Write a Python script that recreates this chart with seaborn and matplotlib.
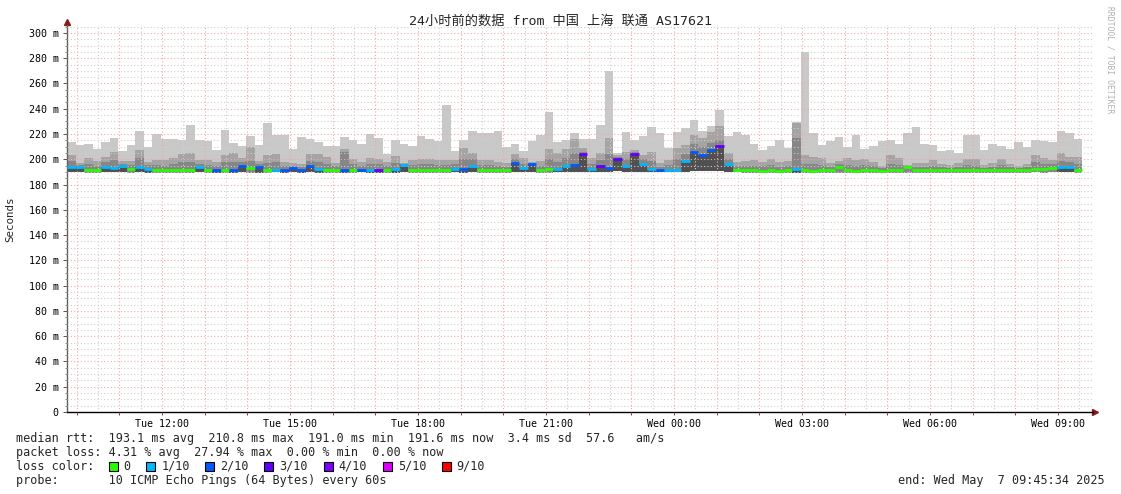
"""
SmokePing style latency chart (24h, 12 minute steps)
"""

import matplotlib
matplotlib.use("Agg")
import matplotlib.pyplot as plt
from matplotlib.patches import Rectangle
from matplotlib.ticker import MultipleLocator, FuncFormatter
import numpy as np
import seaborn as sns

W, H = 1121, 494

# time axis in hours since Tue 00:00
START_HOUR = 9.774
STEP_HOURS = 0.2
SPAN_HOURS = 24.05

# per step values, ms
rtt_max = [
    214.0, 211.4, 212.2, 208.2, 214.0, 217.2, 206.9, 211.4, 222.7, 210.1,
    220.1, 215.9, 215.9, 215.3, 227.2, 215.3, 214.8, 207.4, 223.2, 212.7,
    210.6, 218.5, 211.4, 229.0, 219.3, 219.3, 208.2, 218.0, 215.9, 214.0,
    210.6, 210.6, 218.0, 215.3, 212.2, 220.1, 217.2, 204.2, 215.3, 212.2,
    210.6, 218.5, 216.1, 214.8, 243.0, 206.6, 215.3, 222.4, 220.6, 220.6,
    222.4, 210.1, 212.2, 206.6, 214.8, 219.3, 237.7, 214.0, 215.3, 220.6,
    216.0, 215.9, 227.2, 270.2, 204.7, 221.4, 215.4, 218.7, 225.6, 220.6,
    208.7, 221.4, 224.6, 231.1, 222.4, 226.4, 239.1, 218.7, 221.4, 219.3,
    212.1, 207.4, 210.8, 215.4, 209.2, 229.8, 284.7, 220.9, 211.3, 214.6,
    217.8, 210.0, 219.3, 208.2, 210.5, 214.1, 215.4, 212.1, 220.6, 225.9,
    212.2, 211.4, 206.6, 207.4, 204.7, 219.3, 219.3, 207.4, 212.2, 210.6,
    207.9, 214.0, 209.5, 215.3, 214.5, 214.0, 222.4, 221.1, 216.1,
]
rtt_p80 = [
    203.4, 197.3, 200.8, 198.9, 202.1, 206.1, 198.7, 198.9, 207.4, 198.1,
    199.5, 199.5, 200.8, 204.2, 205.3, 199.5, 199.5, 198.1, 203.4, 205.3,
    200.8, 210.0, 198.9, 203.4, 204.2, 198.1, 196.8, 196.3, 204.0, 204.0,
    202.0, 197.3, 208.2, 200.0, 198.1, 200.8, 200.0, 198.1, 202.6, 197.3,
    199.5, 200.3, 200.3, 199.5, 199.5, 199.5, 209.2, 205.3, 199.5, 199.5,
    198.1, 196.8, 204.2, 200.8, 198.1, 198.9, 207.9, 204.7, 207.9, 216.1,
    208.7, 200.8, 204.7, 217.2, 203.4, 206.1, 207.4, 203.4, 206.1, 196.8,
    199.5, 208.7, 211.3, 219.3, 216.6, 221.4, 226.4, 204.7, 198.2, 198.7,
    199.5, 198.2, 200.2, 197.6, 198.7, 228.5, 203.4, 202.1, 201.3, 196.8,
    198.7, 200.8, 199.5, 200.2, 198.2, 195.0, 203.4, 200.8, 195.5, 196.8,
    197.3, 199.5, 196.3, 195.5, 196.8, 200.0, 200.0, 195.5, 197.3, 200.0,
    196.3, 194.7, 196.3, 203.4, 200.8, 199.5, 205.3, 202.1, 201.6,
]
rtt_p60 = [
    198.5, 195.5, 196.0, 195.0, 198.0, 199.5, 196.5, 195.5, 201.0, 195.5,
    195.5, 195.0, 196.0, 197.5, 198.0, 196.5, 195.5, 195.0, 197.5, 198.0,
    198.0, 199.0, 196.5, 197.0, 197.5, 195.0, 195.0, 194.0, 199.0, 198.0,
    196.5, 194.5, 206.0, 196.0, 195.0, 196.0, 196.0, 195.0, 197.0, 196.5,
    195.5, 196.0, 196.0, 195.5, 195.5, 196.0, 200.5, 200.0, 195.5, 195.5,
    195.0, 194.0, 200.5, 196.5, 197.0, 195.0, 200.0, 198.0, 201.0, 205.0,
    206.0, 196.5, 199.5, 204.0, 201.5, 200.0, 205.5, 200.0, 199.0, 194.0,
    195.5, 200.0, 204.0, 212.0, 210.0, 213.0, 215.0, 200.0, 194.5, 195.0,
    195.0, 194.5, 195.5, 194.0, 194.5, 217.2, 196.5, 196.0, 195.5, 194.0,
    196.0, 195.5, 195.0, 195.5, 194.5, 193.0, 196.5, 195.5, 194.5, 194.0,
    194.0, 195.0, 194.0, 193.5, 194.0, 195.5, 195.0, 193.5, 194.0, 195.5,
    194.0, 193.0, 194.0, 197.5, 196.0, 196.0, 199.0, 198.0, 196.0,
]
rtt_median = [
    194.2, 193.9, 191.6, 191.6, 194.2, 192.9, 194.5, 192.6, 194.2, 192.6,
    191.6, 191.6, 191.6, 191.6, 191.6, 193.6, 191.6, 191.6, 191.6, 191.6,
    195.0, 193.0, 194.0, 191.6, 191.6, 191.6, 193.4, 191.6, 195.0, 192.6,
    191.6, 191.6, 191.6, 191.6, 191.6, 191.6, 191.6, 191.6, 192.1, 195.5,
    191.6, 191.6, 191.6, 191.6, 191.6, 192.6, 192.1, 194.7, 191.6, 191.6,
    191.6, 191.6, 197.3, 192.9, 196.0, 191.6, 192.6, 192.1, 195.0, 195.5,
    204.0, 192.3, 194.5, 193.5, 200.0, 194.5, 204.0, 196.6, 192.3, 191.6,
    191.6, 191.8, 199.0, 205.5, 203.5, 207.0, 210.8, 196.0, 191.6, 191.6,
    191.2, 191.0, 191.2, 191.0, 191.2, 192.3, 191.2, 191.0, 191.2, 191.2,
    194.0, 191.2, 191.0, 191.2, 191.2, 191.0, 191.2, 191.2, 193.7, 191.2,
    191.6, 191.6, 191.6, 191.6, 191.6, 191.4, 191.6, 191.6, 191.6, 191.6,
    191.6, 191.6, 191.6, 192.6, 192.1, 193.4, 193.6, 193.6, 191.6,
]
rtt_min = [
    189.8, 189.6, 189.4, 189.5, 189.7, 189.6, 189.8, 189.4, 189.6, 189.5,
    189.4, 189.3, 189.5, 189.4, 189.3, 189.6, 189.4, 189.5, 189.3, 189.5,
    189.6, 189.4, 189.5, 189.3, 189.6, 189.5, 189.6, 189.5, 189.7, 189.5,
    189.4, 189.3, 189.5, 189.4, 189.6, 189.5, 189.4, 189.3, 189.5, 189.6,
    189.4, 189.3, 189.4, 189.5, 189.3, 189.6, 189.5, 189.8, 189.4, 189.3,
    189.5, 189.4, 189.7, 189.6, 189.8, 189.4, 189.5, 189.6, 189.8, 189.7,
    190.2, 189.8, 190.0, 189.9, 190.4, 190.1, 190.3, 190.2, 189.9, 189.7,
    189.8, 189.9, 190.3, 190.6, 190.5, 190.8, 190.9, 190.2, 189.6, 189.4,
    189.2, 189.3, 189.1, 189.2, 189.3, 189.4, 189.2, 189.1, 189.3, 189.2,
    189.4, 189.2, 189.3, 189.1, 189.2, 189.3, 189.2, 189.1, 189.4, 189.2,
    189.4, 189.5, 189.3, 189.4, 189.3, 189.5, 189.4, 189.3, 189.4, 189.5,
    189.4, 189.3, 189.4, 189.6, 189.5, 189.6, 189.7, 189.6, 189.4,
]
# lost pings out of 10 per step
loss = [
    1, 1, 0, 0, 1, 1, 1, 0, 1, 1,
    0, 0, 0, 0, 0, 1, 0, 2, 0, 2,
    2, 0, 2, 0, 1, 2, 2, 2, 2, 1,
    0, 0, 2, 0, 2, 1, 3, 0, 1, 1,
    0, 0, 0, 0, 0, 1, 2, 1, 0, 0,
    0, 0, 2, 1, 2, 0, 0, 1, 1, 2,
    3, 1, 3, 2, 3, 1, 3, 1, 1, 2,
    1, 1, 1, 2, 2, 2, 3, 1, 0, 0,
    0, 0, 0, 0, 0, 1, 0, 0, 0, 0,
    0, 0, 0, 0, 0, 0, 0, 0, 0, 0,
    0, 0, 0, 0, 0, 0, 0, 0, 0, 0,
    0, 0, 0, 0, 0, 0, 1, 1, 0,
]

tick_hours = [12, 15, 18, 21, 24, 27, 30, 33]
tick_labels = ["Tue 12:00", "Tue 15:00", "Tue 18:00", "Tue 21:00",
               "Wed 00:00", "Wed 03:00", "Wed 06:00", "Wed 09:00"]

loss_levels = [0, 1, 2, 3, 4, 5, 9]
loss_names = ["0", "1/10", "2/10", "3/10", "4/10", "5/10", "9/10"]
loss_colors = ["#26ff00", "#00b8ff", "#0059ff", "#5e00ff",
               "#7e00ff", "#dd00ff", "#ff0000"]

TITLE = "24小时前的数据 from 中国 上海 联通 AS17621"
LINE_RTT = ("median rtt:  193.1 ms avg  210.8 ms max  191.0 ms min  "
            "191.6 ms now  3.4 ms sd  57.6   am/s")
LINE_LOSS = "packet loss: 4.31 % avg  27.94 % max  0.00 % min  0.00 % now"
LINE_PROBE = "probe:       10 ICMP Echo Pings (64 Bytes) every 60s"
LINE_END = "end: Wed May  7 09:45:34 2025"

MONO = ["DejaVu Sans Mono", "Noto Sans CJK SC"]


def fx(px):
    return px / W


def fy(py):
    return 1 - py / H


def main():
    sns.set_theme(style="white")
    plt.rcParams["font.family"] = MONO

    fig = plt.figure(figsize=(W / 100, H / 100), dpi=100)
    fig.patch.set_facecolor("white")
    ax = fig.add_axes([fx(67), fy(412), 1026 / W, 387 / H])
    ax.set_facecolor("white")

    n = len(rtt_max)
    left = START_HOUR + STEP_HOURS * np.arange(n)
    lo = np.array(rtt_min)
    hi = np.array(rtt_max)
    p80 = np.array(rtt_p80)
    p60 = np.array(rtt_p60)
    med = np.array(rtt_median)
    lost = np.array(loss)

    # smoke layers, light to dark
    bar_kw = dict(width=STEP_HOURS, align="edge", linewidth=0, zorder=1)
    ax.bar(left, hi - lo, bottom=lo, color="#c8c8c8", **bar_kw)
    ax.bar(left, p80 - lo, bottom=lo, color="#a4a4a4", **bar_kw)
    ax.bar(left, p60 - lo, bottom=lo, color="#868686", **bar_kw)
    lossy = lost > 0
    ax.bar(left[lossy], med[lossy] - lo[lossy], bottom=lo[lossy],
           color="#505050", **bar_kw)

    # median coloured by loss
    color_of = dict(zip(loss_levels, loss_colors))
    ax.hlines(med, left, left + STEP_HOURS,
              colors=[color_of[v] for v in lost], linewidth=2, zorder=3)

    ax.set_xlim(START_HOUR, START_HOUR + SPAN_HOURS)
    ax.set_ylim(0, 306.3)

    ax.xaxis.set_major_locator(MultipleLocator(1))
    ax.xaxis.set_minor_locator(MultipleLocator(0.5))
    ax.yaxis.set_major_locator(MultipleLocator(20))
    ax.yaxis.set_minor_locator(MultipleLocator(5))

    label_of = dict(zip(tick_hours, tick_labels))
    ax.xaxis.set_major_formatter(
        FuncFormatter(lambda v, _: label_of.get(int(round(v)), "")))
    ax.yaxis.set_major_formatter(
        FuncFormatter(lambda v, _: "0" if v == 0 else f"{int(v)} m"))

    # rrdtool draws the grid over the graph
    ax.set_axisbelow(False)
    ax.grid(which="major", color="#f2a8a8", linestyle=(0, (1, 2)),
            linewidth=0.8)
    ax.grid(which="minor", color="#cfcfcf", linestyle=(0, (1, 2)),
            linewidth=0.8)

    ax.tick_params(axis="y", which="major", labelsize=7.2, length=3,
                   width=0.7, color="#555555", pad=3, left=True)
    ax.tick_params(axis="y", which="minor", length=1.5, width=0.6,
                   color="#777777", left=True)
    ax.tick_params(axis="x", which="major", labelsize=7.2, length=2,
                   width=0.7, color="#555555", pad=3, bottom=True)
    ax.tick_params(axis="x", which="minor", length=0)
    for lab in ax.get_xticklabels() + ax.get_yticklabels():
        lab.set_color("black")

    for side in ("top", "right"):
        ax.spines[side].set_visible(False)
    ax.spines["left"].set_color("#606060")
    ax.spines["left"].set_linewidth(1)
    ax.spines["bottom"].set_color("black")
    ax.spines["bottom"].set_linewidth(1)

    # axis arrows
    ax.plot([0], [1.008], marker="^", color="#8b1a1a", markersize=4,
            transform=ax.transAxes, clip_on=False)
    ax.plot([1.002], [0], marker=">", color="#8b1a1a", markersize=4,
            transform=ax.transAxes, clip_on=False)

    fig.text(0.5, fy(21), TITLE, ha="center", va="center", fontsize=9.5,
             family=MONO)
    fig.text(fx(10), fy(219), "Seconds", rotation=90, ha="center",
             va="center", fontsize=7.8)
    fig.text(fx(1110), fy(60), "RRDTOOL / TOBI OETIKER", rotation=270,
             ha="center", va="center", fontsize=5.8, color="#b0b0b0")

    # legend block under the graph
    txt_kw = dict(ha="left", va="center", fontsize=8.5)
    fig.text(fx(16), fy(438), LINE_RTT, **txt_kw)
    fig.text(fx(16), fy(452), LINE_LOSS, **txt_kw)
    fig.text(fx(16), fy(466), "loss color:", **txt_kw)
    fig.text(fx(16), fy(480), LINE_PROBE, **txt_kw)
    fig.text(fx(1105), fy(480), LINE_END, ha="right", va="center",
             fontsize=8.5)

    cw = 7.12
    cursor = 16 + 13 * cw
    for name, col in zip(loss_names, loss_colors):
        fig.add_artist(Rectangle((fx(cursor), fy(466 + 4.5)), 9 / W, 9 / H,
                                 transform=fig.transFigure, facecolor=col,
                                 edgecolor="black", linewidth=0.8))
        fig.text(fx(cursor + 2.1 * cw), fy(466), name, **txt_kw)
        cursor += (2.3 + len(name) + 2) * cw

    fig.savefig("out.png", dpi=100, facecolor="white")
    plt.close(fig)


if __name__ == "__main__":
    main()
